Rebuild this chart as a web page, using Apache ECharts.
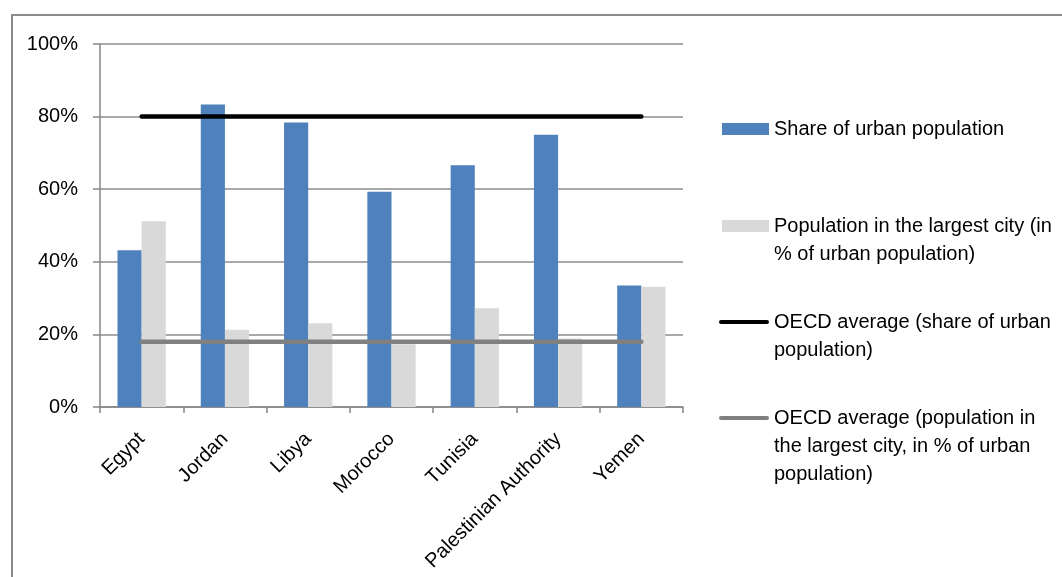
<!DOCTYPE html>
<html>
<head>
<meta charset="utf-8">
<script src="https://cdn.jsdelivr.net/npm/echarts@6/dist/echarts.min.js"></script>
<style>
  html, body { margin: 0; padding: 0; background: #fff; }
  #chart { width: 1062px; height: 577px; }
</style>
</head>
<body>
<div id="chart"></div>
<script>
// Countries on the category axis
const categories = ['Egypt', 'Jordan', 'Libya', 'Morocco', 'Tunisia', 'Palestinian Authority', 'Yemen'];
// Share of urban population (%)
const urbanShare = [43.2, 83.3, 78.4, 59.3, 66.6, 75.0, 33.5];
// Population in the largest city, in % of urban population
const largestCity = [51.2, 21.3, 23.1, 17.3, 27.2, 18.9, 33.1];
// OECD reference levels (%)
const oecdUrbanShare = 80;
const oecdLargestCity = 18;
// Value axis ticks (%)
const yTicks = [0, 20, 40, 60, 80, 100];

const seriesNames = [
  'Share of urban population',
  'Population in the largest city (in % of urban population)',
  'OECD average (share of urban population)',
  'OECD average (population in the largest city, in % of urban population)'
];
// Wrapped legend text, one entry per series
const legendLines = [
  ['Share of urban population'],
  ['Population in the largest city (in', '% of urban population)'],
  ['OECD average (share of urban', 'population)'],
  ['OECD average (population in', 'the largest city, in % of urban', 'population)']
];

const FONT = '"Liberation Sans", Arial, sans-serif';
const LINE_H = 28;
const legendFirstLineY = [129, 226, 322, 418];
// Pill-shaped swatch for the line series
const LINE_ICON = 'path://M2,0 L48,0 A2,2 0 0 1 48,4 L2,4 A2,2 0 0 1 2,0 Z';

// Blank lines are prepended so the legend icon sits beside the first text line
function legendFor(i, icon, left, w, h) {
  const lines = legendLines[i];
  const padded = new Array(lines.length - 1).fill('').concat(lines);
  return {
    data: [seriesNames[i]],
    left: left,
    top: legendFirstLineY[i] - (padded.length * LINE_H) / 2,
    padding: 0,
    icon: icon,
    itemWidth: w,
    itemHeight: h,
    itemGap: 0,
    selectedMode: false,
    textStyle: { fontSize: 20, lineHeight: LINE_H, color: '#000', fontFamily: FONT },
    formatter: () => padded.join('\n')
  };
}

const chart = echarts.init(document.getElementById('chart'), null, { renderer: 'canvas' });
chart.setOption({
  animation: false,
  backgroundColor: '#fff',
  textStyle: { fontFamily: FONT },
  graphic: [{
    type: 'rect',
    shape: { x: 12, y: 15, width: 1100, height: 620 },
    style: { fill: 'none', stroke: '#8c8c8c', lineWidth: 2 },
    silent: true
  }],
  grid: { left: 100, right: 379, top: 44, bottom: 170, containLabel: false },
  legend: [
    legendFor(0, 'rect', 722, 47, 12),
    legendFor(1, 'rect', 722, 47, 12),
    legendFor(2, LINE_ICON, 719, 50, 4),
    legendFor(3, LINE_ICON, 719, 50, 4)
  ],
  xAxis: {
    type: 'category',
    data: categories,
    axisLine: { lineStyle: { color: '#868686', width: 1.5 } },
    axisTick: { show: true, length: 6, lineStyle: { color: '#868686', width: 1.5 } },
    axisLabel: { rotate: 45, margin: 29, fontSize: 20, color: '#000', fontFamily: FONT, interval: 0 }
  },
  yAxis: {
    type: 'value',
    min: yTicks[0],
    max: yTicks[yTicks.length - 1],
    interval: yTicks[1] - yTicks[0],
    axisLine: { show: true, lineStyle: { color: '#868686', width: 1.5 } },
    axisTick: { show: true, length: 7, lineStyle: { color: '#868686', width: 1.5 } },
    splitLine: { show: true, lineStyle: { color: '#8c8c8c', width: 1.5 } },
    axisLabel: { margin: 22, fontSize: 20, color: '#000', fontFamily: FONT, formatter: '{value}%' }
  },
  series: [
    {
      name: seriesNames[0], type: 'bar', data: urbanShare,
      barGap: '0%', barCategoryGap: '42%',
      itemStyle: { color: '#4f81bd' }, z: 2
    },
    {
      name: seriesNames[1], type: 'bar', data: largestCity,
      barGap: '0%', barCategoryGap: '42%',
      itemStyle: { color: '#d9d9d9' }, z: 2
    },
    {
      name: seriesNames[2], type: 'line', data: categories.map(() => oecdUrbanShare),
      symbol: 'none', showSymbol: false,
      lineStyle: { color: '#000', width: 4.5, cap: 'round' },
      itemStyle: { color: '#000' }, z: 5
    },
    {
      name: seriesNames[3], type: 'line', data: categories.map(() => oecdLargestCity),
      symbol: 'none', showSymbol: false,
      lineStyle: { color: '#808080', width: 4.5, cap: 'round' },
      itemStyle: { color: '#808080' }, z: 5
    }
  ]
});
</script>
</body>
</html>
